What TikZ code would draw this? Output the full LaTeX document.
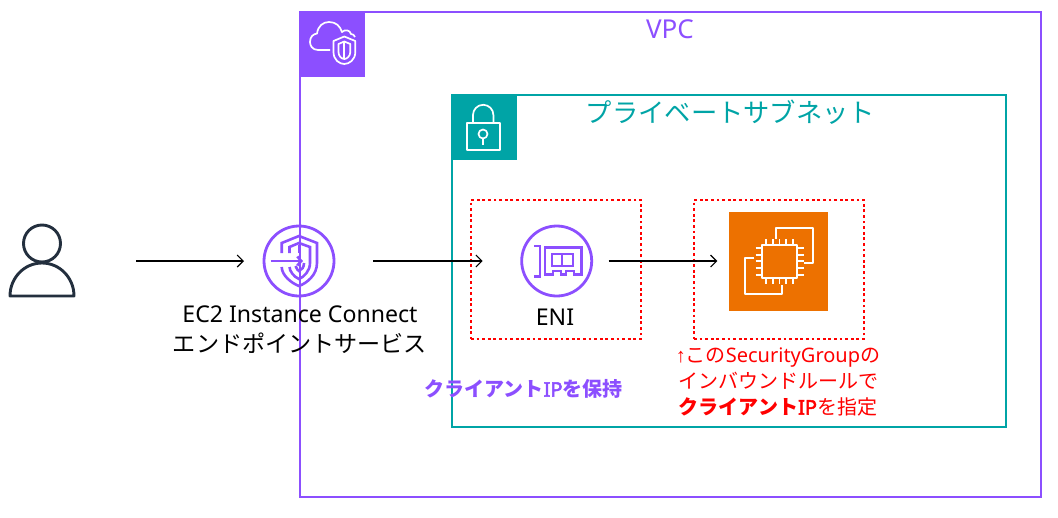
\documentclass[tikz,border=0pt]{standalone}
\usepackage{fontspec}
\usetikzlibrary{arrows.meta}
\setmainfont{Noto Sans}[AutoFakeBold=2.5]
\newfontfamily\cjk{Noto Sans CJK JP}
\newfontfamily\arrowfont{Liberation Sans}
\definecolor{vpc_color}{HTML}{8C4FFF}
\definecolor{subnet_color}{HTML}{00A4A6}
\definecolor{ec2_color}{HTML}{ED7100}
\definecolor{user_color}{HTML}{232F3E}

\begin{document}
\begin{tikzpicture}[x=1pt,y=-1pt,
		box_style/.style={draw,line width=1.6pt,inner sep=0pt,outer sep=0pt},
		tag_style/.style={fill,inner sep=0pt,outer sep=0pt,minimum size=65pt},
		mark_style/.style={box_style,circle,draw=vpc_color,line width=2.8pt,minimum size=70pt},
		red_box_style/.style={draw=red,line width=1.15pt,dash pattern=on 2.8pt off 2.8pt,inner sep=0pt,minimum width=170pt,minimum height=139pt},
		icon_style/.style={draw=white,line width=1.7pt,line join=round},
		purple_icon_style/.style={draw=vpc_color,line width=2.6pt,line join=miter},
		edge_style/.style={draw=black,line width=1.1pt,-{Straight Barb[length=6pt,width=12pt]}},
		big_text/.style={font=\fontsize{23.1}{30}\selectfont,align=center,inner sep=0pt},
		small_text/.style={font=\fontsize{20}{26}\selectfont,align=center,inner sep=0pt}]

		% boxes
		\node[box_style,draw=vpc_color,minimum width=741pt,minimum height=485pt] (vpc) at (670.5,254.5) {};
		\node[box_style,draw=subnet_color,minimum width=554pt,minimum height=332pt] (subnet) at (729,261) {};
		\node[tag_style,fill=vpc_color] (vpc_tag) at (332.5,44) {};
		\node[tag_style,fill=subnet_color] (subnet_tag) at (484.5,127.5) {};
		\node[red_box_style] (eni_box) at (556,269.5) {};
		\node[red_box_style] (ec2_box) at (779,269.5) {};

		% vpc tag icon
		\draw[icon_style] (330,50) -- (318,50) .. controls (312,50) and (310,45) .. (310,42) .. controls (310,37) and (313,34) .. (317,33.5) .. controls (318,26) and (323,22) .. (329,22) .. controls (336,22) and (340,26) .. (342,32) .. controls (345,29) and (350,30) .. (351,34) .. controls (353,34) and (354,35) .. (355,37);
		\draw[icon_style] (333.5,41) -- (344.3,36.5) -- (355.3,41) -- (355.3,52) .. controls (355.3,60) and (349,64) .. (344.3,64) .. controls (339.5,64) and (333.5,60) .. (333.5,52) -- cycle;
		\draw[icon_style] (338.5,44) -- (344.3,41.5) -- (350.3,44) -- (350.3,52) .. controls (350.3,56) and (347,59) .. (344.3,59) .. controls (341.5,59) and (338.5,56) .. (338.5,52) -- cycle;
		\draw[icon_style] (344.3,41.5) -- (344.3,59);

		% subnet tag icon
		\draw[icon_style] (466.7,123.3) rectangle (500,150);
		\draw[icon_style] (473,123.3) -- (473,115) arc[start angle=180,end angle=360,radius=10.2] -- (493.4,123.3);
		\draw[icon_style] (483,134) circle[radius=4.5];
		\draw[icon_style] (483,138.5) -- (483,144.5);

		% user
		\coordinate (user) at (42,261);
		\node[box_style,circle,draw=user_color,line width=2.9pt,minimum size=37pt] (user_head) at (42,243.5) {};
		\draw[draw=user_color,line width=2.9pt,line join=round] (10,296) arc[start angle=180,end angle=360,x radius=32,y radius=33] -- cycle;

		% endpoint service
		\node[mark_style] (sgw) at (299,261) {};
		\draw[purple_icon_style] (281.7,253) -- (281.7,243) -- (299,236) -- (317,243) -- (317,263) .. controls (317,275) and (307,283) .. (299,286) .. controls (291,283) and (281.7,275) .. (281.7,267);
		\draw[purple_icon_style] (289.5,253) -- (289.5,247) -- (299,243) -- (310,247) -- (310,263) .. controls (310,271) and (304,277) .. (299,279) .. controls (294,277) and (289.5,271) .. (289.5,267);
		\draw[purple_icon_style] (295.5,266) .. controls (296,269) and (299,271) .. (299,271) .. controls (302,270) and (304,267) .. (304,263);
		\draw[purple_icon_style] (299,245) -- (299,253);
		\draw[purple_icon_style,-{Straight Barb[length=4pt,width=9pt]}] (270.5,261) -- (303,261);

		% eni
		\node[mark_style] (eni) at (556.7,261) {};
		\draw[purple_icon_style] (534.3,246) -- (540,246) -- (540,276.7) -- (534.3,276.7);
		\draw[purple_icon_style] (545,247.5) -- (581.5,247.5) -- (581.5,274.5) -- (574,274.5) -- (574,271) -- (566,271) -- (566,274.5) -- (561,274.5) -- (561,271) -- (553,271) -- (553,274.5) -- (545,274.5) -- cycle;
		\draw[purple_icon_style] (552,254) rectangle (573,266);
		\draw[purple_icon_style] (562,254) -- (562,266);

		% ec2
		\node[inner sep=0pt,outer sep=0pt,fill=ec2_color,minimum size=99pt] (ec2) at (778.8,261) {};
		\draw[icon_style] (761.7,245) rectangle (797.3,277.7);
		\draw[icon_style] (776,238.5) -- (776,227.7) -- (812.7,227.7) -- (812.7,263.3) -- (803.5,263.3);
		\draw[icon_style] (754.3,258.3) -- (745.3,258.3) -- (745.3,294.3) -- (781.7,294.3) -- (781.7,285);
		\draw[icon_style] (766,239) -- (766,245) (772.8,239) -- (772.8,245) (779.5,239) -- (779.5,245) (786.2,239) -- (786.2,245) (793,239) -- (793,245);
		\draw[icon_style] (766,277.7) -- (766,284) (772.8,277.7) -- (772.8,284) (779.5,277.7) -- (779.5,284) (786.2,277.7) -- (786.2,284) (793,277.7) -- (793,284);
		\draw[icon_style] (755.5,248) -- (761.7,248) (755.5,254.7) -- (761.7,254.7) (755.5,261.3) -- (761.7,261.3) (755.5,268) -- (761.7,268) (755.5,274.7) -- (761.7,274.7);
		\draw[icon_style] (797.3,248) -- (803.5,248) (797.3,254.7) -- (803.5,254.7) (797.3,261.3) -- (803.5,261.3) (797.3,268) -- (803.5,268) (797.3,274.7) -- (803.5,274.7);

		% connectors
		\draw[edge_style,shorten <=94pt,shorten >=20pt] (user) -- (sgw);
		\draw[edge_style,shorten <=39pt,shorten >=39pt] (sgw) -- (eni);
		\draw[edge_style,shorten <=17pt,shorten >=12pt] (eni) -- (ec2);

		% labels
		\node[big_text,text=vpc_color,font=\fontsize{26}{30}\selectfont] (vpc_label) at (670,29) {VPC};
		\node[text=subnet_color,inner sep=0pt,font=\fontsize{26.3}{30}\selectfont\cjk] (subnet_label) at (730.5,112) {プライベートサブネット};
		\node[big_text] (sgw_label) at (300,330) {EC2 Instance Connect\\{\cjk エンドポイントサービス}};
		\node[big_text] (eni_label) at (555,317) {ENI};
		\node[small_text,text=vpc_color,font=\fontsize{20}{26}\selectfont\bfseries] (ip_label) at (523.5,389) {{\cjk クライアント}IP{\cjk を保持}};
		\node[small_text,text=red] (sg_label) at (778,382) {{\arrowfont ↑}{\cjk この}SecurityGroup{\cjk の}\\{\cjk インバウンドルールで}\\{\bfseries\cjk クライアント}{\bfseries IP}{\cjk を指定}};

		% page
		\useasboundingbox (0,0) rectangle (1058,517);
\end{tikzpicture}
\end{document}
